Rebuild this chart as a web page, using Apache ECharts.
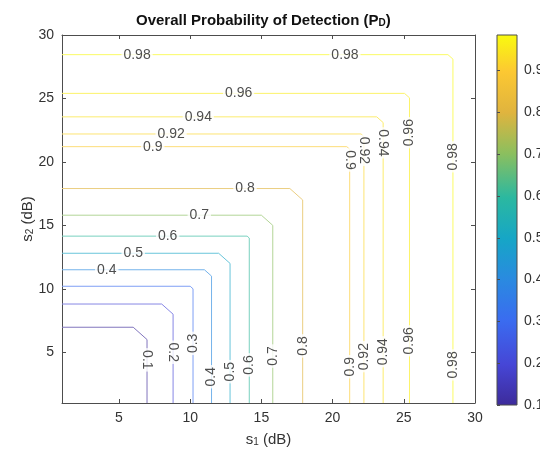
<!DOCTYPE html>
<html><head><meta charset="utf-8">
<script src="https://cdn.jsdelivr.net/npm/echarts@6/dist/echarts.min.js"></script>
<style>html,body{margin:0;padding:0;background:#fff}#c{width:540px;height:455px}</style>
</head><body><div id="c"></div>
<script>
// ---- data ----
const levels = [0.1, 0.2, 0.3, 0.4, 0.5, 0.6, 0.7, 0.8, 0.9, 0.92, 0.94, 0.96, 0.98];
// s (dB) at which each contour runs straight (same for s1 and s2: the surface is symmetric)
const levelPos = [6.97, 8.8, 10.2, 11.5, 12.8, 14.15, 15.8, 17.9, 21.2, 22.2, 23.55, 25.4, 28.45];
// s (dB) at which the contour's corner cut begins
const cornerStart = [6.0, 8.0, 10.0, 11.0, 12.0, 14.0, 15.0, 17.0, 21.0, 22.0, 23.1, 25.05, 28.1];
const sMin = 1, sMax = 30;
const colorMin = 0.1, colorMax = 0.985;
const colorTicks = [0.1, 0.2, 0.3, 0.4, 0.5, 0.6, 0.7, 0.8, 0.9];
// inline contour labels
const labelLevel = [0.98, 0.98, 0.96, 0.94, 0.92, 0.9, 0.8, 0.7, 0.6, 0.5, 0.4,
                    0.9, 0.92, 0.94, 0.96, 0.98,
                    0.1, 0.2, 0.3, 0.4, 0.5, 0.6, 0.7, 0.8, 0.9, 0.92, 0.94, 0.96, 0.98];
const labelS1 = [6.27, 20.87, 13.4, 10.57, 8.66, 7.37, 13.85, 10.64, 8.42, 6.0, 4.14,
                 21.2, 22.2, 23.55, 25.4, 28.45,
                 6.97, 8.8, 10.2, 11.5, 12.8, 14.15, 15.8, 17.9, 21.2, 22.2, 23.55, 25.4, 28.45];
const labelS2 = [28.45, 28.45, 25.4, 23.55, 22.2, 21.2, 17.9, 15.8, 14.15, 12.8, 11.5,
                 20.15, 20.9, 21.5, 22.3, 20.4,
                 4.4, 5.0, 5.7, 3.07, 3.47, 4.0, 4.7, 5.5, 3.86, 4.65, 5.04, 5.9, 4.0];
const labelTurn = [0, 0, 0, 0, 0, 0, 0, 0, 0, 0, 0,
                   -90, -90, -90, 90, 90,
                   -90, -90, 90, 90, 90, 90, 90, 90, 90, 90, 90, 90, 90];

// ---- parula-like colormap ----
const cmapStops = [
  [0.00, [61, 43, 154]], [0.11, [70, 70, 214]], [0.23, [58, 108, 240]],
  [0.34, [42, 138, 224]], [0.45, [22, 166, 198]], [0.56, [43, 184, 160]],
  [0.68, [140, 191, 94]], [0.79, [224, 180, 62]], [0.90, [252, 200, 50]],
  [1.00, [249, 251, 14]]
];
function cmapRGB(t) {
  t = Math.max(0, Math.min(1, t));
  for (let i = 1; i < cmapStops.length; i++) {
    if (t <= cmapStops[i][0]) {
      const a = cmapStops[i - 1], b = cmapStops[i];
      const f = (t - a[0]) / (b[0] - a[0]);
      return a[1].map((v, k) => v + (b[1][k] - v) * f);
    }
  }
  return [249, 251, 14];
}
// thin contour strokes look lighter: blend toward white a little
const levelColor = v => {
  const c = cmapRGB((v - colorMin) / (colorMax - colorMin)).map(x => Math.round(x + (255 - x) * 0.35));
  return 'rgb(' + c.join(',') + ')';
};

const axisColor = '#4d4d4d', textColor = '#333';
const contourSeries = levels.map((lv, i) => ({
  type: 'line', xAxisIndex: 0, yAxisIndex: 0, silent: true, animation: false,
  symbol: 'none', z: 2,
  lineStyle: { color: levelColor(lv), width: 1 },
  data: [[sMin, levelPos[i]], [cornerStart[i], levelPos[i]], [levelPos[i], cornerStart[i]], [levelPos[i], sMin]]
}));
const font = 'Arial, Liberation Sans, sans-serif';
const labelSeries = {
  type: 'scatter', xAxisIndex: 0, yAxisIndex: 0, silent: true, animation: false, z: 5,
  symbolSize: 1, itemStyle: { color: 'rgba(0,0,0,0)' },
  label: {
    show: true, position: 'inside', formatter: '{b}', color: '#222', fontSize: 14,
    fontFamily: font, backgroundColor: '#fff', padding: [0, 2], lineHeight: 13
  },
  data: labelLevel.map((lv, i) => ({ name: String(lv), value: [labelS1[i], labelS2[i]], label: { rotate: labelTurn[i] } }))
};

const gradStops = cmapStops.map(s => ({ offset: s[0], color: 'rgb(' + s[1].join(',') + ')' }));
const chart = echarts.init(document.getElementById('c'), null, { renderer: 'canvas' });
chart.setOption({
  animation: false,
  backgroundColor: '#fff',
  textStyle: { fontFamily: font },
  title: {
    left: 131, top: 3,
    text: '{a|Overall Probability of Detection (P}{b|D}{a|)}',
    textStyle: { rich: {
      a: { fontSize: 15, fontWeight: 'bold', color: '#111', fontFamily: font, lineHeight: 20, verticalAlign: 'bottom' },
      b: { fontSize: 10, fontWeight: 'bold', color: '#111', fontFamily: font, lineHeight: 10, verticalAlign: 'bottom' }
    } }
  },
  grid: [
    { left: 62, top: 35, width: 413, height: 368, show: false, outerBoundsMode: 'none', containLabel: false },
    { left: 497, top: 35, width: 20, height: 370, show: true, borderColor: axisColor, borderWidth: 1,
      outerBoundsMode: 'none', containLabel: false,
      backgroundColor: new echarts.graphic.LinearGradient(0, 1, 0, 0, gradStops) }
  ],
  xAxis: [
    { gridIndex: 0, type: 'value', min: sMin, max: sMax, position: 'bottom',
      axisLine: { onZero: false, lineStyle: { color: axisColor } },
      axisTick: { inside: true, length: 4, lineStyle: { color: axisColor } },
      axisLabel: { showMinLabel: false, color: textColor, fontSize: 14, margin: 8, fontFamily: font },
      splitLine: { show: false },
      name: '{a|s}{b|1}{a| (dB)}', nameLocation: 'middle', nameGap: 26,
      nameTextStyle: { rich: {
        a: { fontSize: 15, color: textColor, fontFamily: font, lineHeight: 18, verticalAlign: 'bottom' },
        b: { fontSize: 10, color: textColor, fontFamily: font, lineHeight: 10, verticalAlign: 'bottom' } } } },
    { gridIndex: 0, type: 'value', min: sMin, max: sMax, position: 'top',
      axisLine: { onZero: false, lineStyle: { color: axisColor } },
      axisTick: { inside: true, length: 4, lineStyle: { color: axisColor } },
      axisLabel: { show: false }, splitLine: { show: false } },
    { gridIndex: 1, type: 'value', min: 0, max: 1, show: false }
  ],
  yAxis: [
    { gridIndex: 0, type: 'value', min: sMin, max: sMax, position: 'left',
      axisLine: { onZero: false, lineStyle: { color: axisColor } },
      axisTick: { inside: true, length: 4, lineStyle: { color: axisColor } },
      axisLabel: { showMinLabel: false, color: textColor, fontSize: 14, margin: 8, fontFamily: font },
      splitLine: { show: false },
      name: '{a|s}{b|2}{a| (dB)}', nameLocation: 'middle', nameGap: 27, nameRotate: 90,
      nameMoveOverlap: false,
      nameTextStyle: { rich: {
        a: { fontSize: 15, color: textColor, fontFamily: font, lineHeight: 18, verticalAlign: 'bottom' },
        b: { fontSize: 10, color: textColor, fontFamily: font, lineHeight: 10, verticalAlign: 'bottom' } } } },
    { gridIndex: 0, type: 'value', min: sMin, max: sMax, position: 'right',
      axisLine: { onZero: false, lineStyle: { color: axisColor } },
      axisTick: { inside: true, length: 4, lineStyle: { color: axisColor } },
      axisLabel: { show: false }, splitLine: { show: false } },
    { gridIndex: 1, type: 'value', min: colorMin, max: colorMax, interval: 0.1, position: 'right',
      axisLine: { show: false },
      axisTick: { show: true, inside: false, length: 3, lineStyle: { color: axisColor } },
      axisLabel: { color: textColor, fontSize: 14, margin: 7, fontFamily: font, showMaxLabel: false,
        formatter: v => colorTicks.some(t => Math.abs(t - v) < 1e-6) ? v.toFixed(1) : '' },
      splitLine: { show: false } }
  ],
  series: contourSeries.concat([labelSeries])
});
</script></body></html>
